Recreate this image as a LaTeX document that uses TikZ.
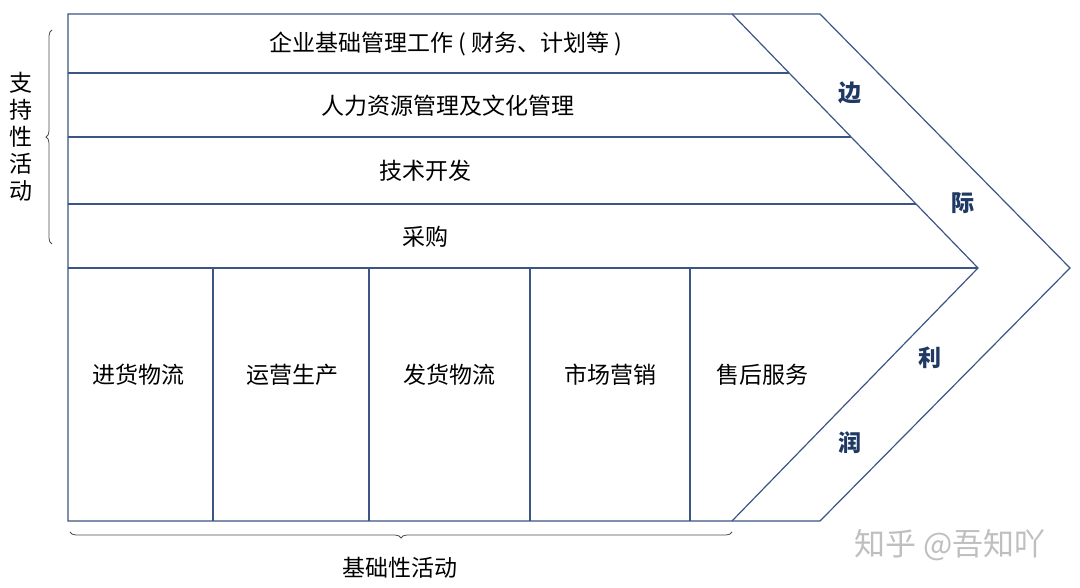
\documentclass[tikz,border=0pt]{standalone}
\usepackage{fontspec}
\setmainfont{Noto Sans CJK SC}
\usetikzlibrary{decorations.pathreplacing}
\definecolor{ln}{HTML}{3B5584}
\definecolor{nv}{HTML}{1F3864}
\begin{document}
\begin{tikzpicture}[x=1pt,y=-1pt,
  lbl/.style={font=\fontsize{23}{25}\selectfont,text=black},
  big/.style={font=\fontsize{23}{25}\selectfont\bfseries,text=nv},
  br/.style={decorate,decoration={brace,amplitude=6pt},draw=black!70,line width=0.8pt}]
\useasboundingbox (0,0) rectangle (1080,588);
\begin{scope}[draw=ln,line width=1.2pt]
\draw (68,14) -- (820,14) -- (1070,268) -- (820,521) -- (68,521) -- cycle;
\draw (732,14) -- (978,268) -- (732,521);
\draw (68,73) -- (789,73);
\draw (68,137) -- (851,137);
\draw (68,204) -- (916,204);
\draw (68,268) -- (978,268);
\foreach \x in {213,369,530,690} \draw (\x,268) -- (\x,521);
\end{scope}
\node[lbl] (r1) at (446,44) {企业基础管理工作 ( 财务、计划等 )};
\node[lbl] (r2) at (448,106) {人力资源管理及文化管理};
\node[lbl] (r3) at (425,171) {技术开发};
\node[lbl] (r4) at (425,237) {采购};
\node[lbl] (b1) at (138,375) {进货物流};
\node[lbl] (b2) at (292,375) {运营生产};
\node[lbl] (b3) at (449,375) {发货物流};
\node[lbl] (b4) at (610,375) {市场营销};
\node[lbl] (b5) at (762,375) {售后服务};
\node[big] (m1) at (850,93) {边};
\node[big] (m2) at (963,203) {际};
\node[big] (m3) at (930,358) {利};
\node[big] (m4) at (850,443) {润};
\draw[br] (52,244) -- (52,30);
\node[lbl,align=center,font=\fontsize{23}{27}\selectfont] (sl) at (21,137) {支\\持\\性\\活\\动};
\draw[br] (732,532) -- (70,532);
\node[lbl] (bl) at (400,568) {基础性活动};
\node[font=\fontsize{31}{33}\selectfont,text=black!25] (wm) at (950,545) {知乎 @吾知吖};
\end{tikzpicture}
\end{document}
